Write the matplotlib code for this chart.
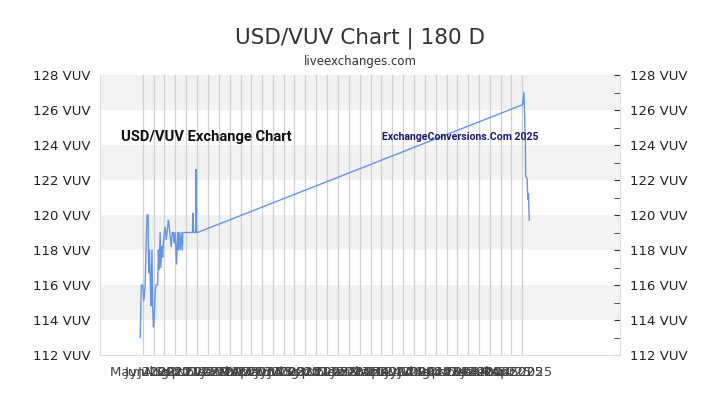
import pandas as pd
import matplotlib
matplotlib.use("Agg")
import matplotlib.pyplot as plt
import matplotlib.dates as mdates
from matplotlib.ticker import MultipleLocator, FuncFormatter

# data
dates = ["2022-04-24", "2022-04-27", "2022-05-01", "2022-05-04", "2022-05-08",
         "2022-05-10", "2022-05-13", "2022-05-16", "2022-05-17", "2022-05-18",
         "2022-05-20", "2022-05-22", "2022-05-24", "2022-05-27", "2022-05-29",
         "2022-05-31", "2022-06-02", "2022-06-05", "2022-06-07", "2022-06-12",
         "2022-06-14", "2022-06-16", "2022-06-19", "2022-06-21", "2022-06-24",
         "2022-06-26", "2022-06-28", "2022-07-01", "2022-07-03", "2022-07-06",
         "2022-07-09", "2022-07-12", "2022-07-14", "2022-07-17", "2022-07-20",
         "2022-07-23", "2022-07-26", "2022-07-28", "2022-07-31", "2022-08-04",
         "2022-08-07", "2022-08-09", "2022-08-11", "2022-08-14", "2022-08-17",
         "2022-08-20", "2022-08-22", "2022-09-18", "2022-09-19", "2022-09-21",
         "2022-09-27", "2022-09-28", "2022-09-29", "2022-10-02", "2025-04-02",
         "2025-04-06", "2025-04-10", "2025-04-11", "2025-04-15", "2025-04-17",
         "2025-04-19", "2025-04-21"]
rates = [113.0, 116.0, 116.0, 115.1, 116.0,
         117.9, 120.0, 120.0, 118.0, 116.7,
         118.0, 116.5, 114.8, 118.0, 114.8,
         113.6, 114.0, 115.5, 116.0, 116.0,
         118.0, 116.9, 119.0, 117.0, 118.2,
         117.6, 118.4, 119.0, 119.3, 118.6,
         119.1, 119.7, 119.5, 118.8, 118.2,
         119.0, 119.0, 118.4, 119.0, 117.2,
         119.0, 118.0, 119.0, 118.0, 119.0,
         118.0, 119.0, 119.0, 120.1, 119.0,
         119.0, 122.6, 119.0, 119.0, 126.3,
         127.0, 124.3, 122.2, 122.1, 120.9,
         121.2, 119.7]

month_ticks = pd.date_range("2022-05-01", "2025-04-01", freq="MS")
x_range = ("2022-01-01", "2026-01-01")
y_range = (112, 128)

x = pd.to_datetime(dates)

fig = plt.figure(figsize=(7.2, 4.05), dpi=100)
ax = fig.add_axes([100/720, 50/405, 520/720, 280/405])

for lo in range(114, 128, 4):
    ax.axhspan(lo, lo + 2, color="#f2f2f2", zorder=0, lw=0)

ax.plot(x, rates, color="#6495ed", lw=1, zorder=3)

ax.set_xlim(pd.Timestamp(x_range[0]), pd.Timestamp(x_range[1]))
ax.set_ylim(*y_range)

ax.set_xticks(month_ticks)
ax.xaxis.set_major_formatter(mdates.DateFormatter("%b %Y"))
ax.grid(axis="x", color="#d0d0d0", lw=0.9, zorder=1)

ax.yaxis.set_major_locator(MultipleLocator(2))
ax.yaxis.set_minor_locator(MultipleLocator(1))
ax.yaxis.set_major_formatter(FuncFormatter(lambda v, p: "%d VUV" % v))
ax.tick_params(axis="y", which="both", left=False, right=True, labelleft=True,
               labelright=True, direction="in", length=4, color="#333333",
               labelsize=9.5, labelcolor="#222222", pad=7)
ax.tick_params(axis="x", length=0, labelsize=9.5, labelcolor="#444444", pad=8)

ax.spines["top"].set_visible(False)
for side in ["left", "right", "bottom"]:
    ax.spines[side].set_color("#dddddd")

fig.text(0.5, 0.905, "USD/VUV Chart | 180 D", ha="center", va="center",
         fontsize=15.5, color="#333333")
fig.text(0.5, 0.847, "liveexchanges.com", ha="center", va="center",
         fontsize=8.5, color="#333333")

narrow = ["Roboto", "DejaVu Sans"]
ax.text(0.04, 0.78, "USD/VUV Exchange Chart", transform=ax.transAxes,
        fontsize=10.6, fontweight="bold", fontstretch="condensed", family=narrow,
        color="#111111", va="center")
ax.text(0.542, 0.78, "ExchangeConversions.Com 2025", transform=ax.transAxes,
        fontsize=7.6, fontweight="bold", fontstretch="condensed", family=narrow,
        color="#1a1a6e", va="center")

fig.savefig("out.png", dpi=100)
